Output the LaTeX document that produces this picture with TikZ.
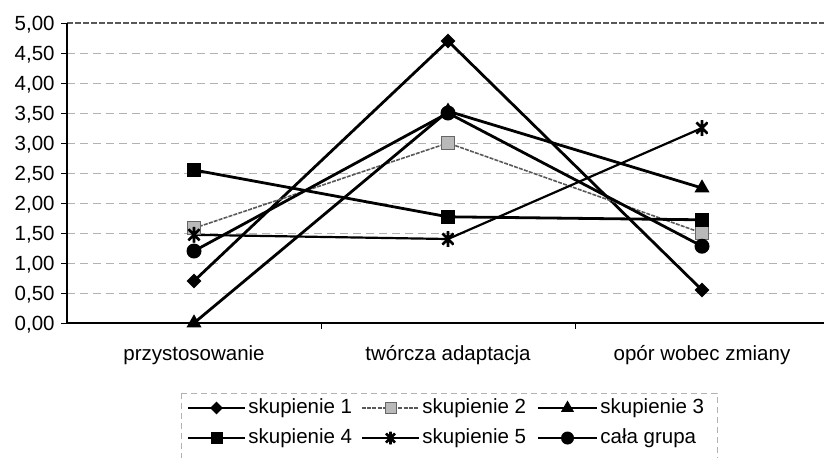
\documentclass[tikz,border=0pt]{standalone}
\usepackage{fontspec}
\setmainfont{Liberation Sans}
\usepackage{tikz}
\usetikzlibrary{shapes.geometric}

\begin{document}
\begin{tikzpicture}[x=0.5pt, y=-0.5pt,
        font=\fontsize{10.25}{12}\selectfont,
        gridline/.style={gray!60, line width=0.4pt, dash pattern=on 4pt off 2.5pt},
        series/.style={black, line width=1.4pt},
        greyseries/.style={gray!70!black, line width=0.8pt, dash pattern=on 2pt off 0.6pt},
        starseries/.style={black, line width=1.1pt},
        diamark/.style={diamond, fill=black, inner sep=0pt, minimum size=7.5pt},
        sqmark/.style={rectangle, fill=black, inner sep=0pt, minimum size=7pt},
        greymark/.style={rectangle, fill=gray!55, draw=gray!80!black, line width=0.4pt, inner sep=0pt, minimum size=6.5pt},
        trimark/.style={regular polygon, regular polygon sides=3, fill=black, inner sep=0pt, minimum size=8.7pt},
        dotmark/.style={circle, fill=black, inner sep=0pt, minimum size=7.5pt},
        starmark/.style={circle, inner sep=0pt, minimum size=8pt, path picture={
            \draw[black, line width=1.3pt]
              (path picture bounding box.north) -- (path picture bounding box.south)
              (path picture bounding box.north west) -- (path picture bounding box.south east)
              (path picture bounding box.north east) -- (path picture bounding box.south west);}},
        entry/.style={anchor=base west, inner sep=0pt}]
        \useasboundingbox (0,0) rectangle (824,457);

        \begin{scope}[shift={(67,323)}, x=127pt, y=30pt]
        % Grid
        \foreach \v in {0.5,1,...,4.5}
            \draw[gridline] (0,\v) -- (2.98,\v);
        \draw[gray!70!black, line width=0.6pt, dash pattern=on 3pt off 1pt] (0,5) -- (2.98,5);

        % Axes
        \draw[black, line width=0.6pt] (0,5) -- (0,0) -- (2.98,0);
        \foreach \v in {0,0.5,...,5}
            \draw[black, line width=0.4pt] (0,\v) -- ++(-3pt,0);
        \foreach \c in {1,2}
            \draw[black, line width=0.4pt] (\c,0) -- ++(0,-3pt);

        % Value labels
        \foreach \t [count=\i from 0] in {{0,00},{0,50},{1,00},{1,50},{2,00},{2,50},{3,00},{3,50},{4,00},{4,50},{5,00}}
            \node[anchor=base east, inner sep=0pt] (y\i) at ([xshift=-6pt, yshift=-3.75pt]0,{\i/2}) {\t};

        % Categories
        \node[anchor=base, inner sep=0pt] (cat1) at (0.5,-0.617) {przystosowanie};
        \node[anchor=base, inner sep=0pt] (cat2) at (1.5,-0.617) {twórcza adaptacja};
        \node[anchor=base, inner sep=0pt] (cat3) at (2.5,-0.617) {opór wobec zmiany};

        % Data points
        \coordinate (s1a) at (0.5,0.70);  \coordinate (s1b) at (1.5,4.70);  \coordinate (s1c) at (2.5,0.55);
        \coordinate (s2a) at (0.5,1.58);  \coordinate (s2b) at (1.5,3.00);  \coordinate (s2c) at (2.5,1.50);
        \coordinate (s3a) at (0.5,0.00);  \coordinate (s3b) at (1.5,3.53);  \coordinate (s3c) at (2.5,2.25);
        \coordinate (s4a) at (0.5,2.55);  \coordinate (s4b) at (1.5,1.77);  \coordinate (s4c) at (2.5,1.72);
        \coordinate (s5a) at (0.5,1.47);  \coordinate (s5b) at (1.5,1.40);  \coordinate (s5c) at (2.5,3.25);
        \coordinate (s6a) at (0.5,1.20);  \coordinate (s6b) at (1.5,3.50);  \coordinate (s6c) at (2.5,1.28);

        % Lines
        \draw[series] (s1a) -- (s1b) -- (s1c);
        \draw[greyseries] (s2a) -- (s2b) -- (s2c);
        \draw[series] (s3a) -- (s3b) -- (s3c);
        \draw[series] (s4a) -- (s4b) -- (s4c);
        \draw[starseries] (s5a) -- (s5b) -- (s5c);
        \draw[series] (s6a) -- (s6b) -- (s6c);

        % Markers
        \foreach \p in {a,b,c} {
            \node[diamark] (m1\p) at (s1\p) {};
            \node[greymark] (m2\p) at (s2\p) {};
            \node[trimark] (m3\p) at (s3\p) {};
            \node[sqmark] (m4\p) at (s4\p) {};
            \node[starmark] (m5\p) at (s5\p) {};
            \node[dotmark] (m6\p) at (s6\p) {};
        }
        \end{scope}

        % Legend
        \draw[gray!60, line width=0.4pt, dash pattern=on 3pt off 2pt] (181,393) rectangle (717,460);

        \coordinate (la1) at (188,408);  \coordinate (lb1) at (245,408);
        \draw[series] (la1) -- (lb1);
        \node[diamark, minimum size=6.5pt] (lm1) at (216.5,408) {};
        \node[entry] (lt1) at (248,413) {skupienie 1};

        \coordinate (la2) at (362,408);  \coordinate (lb2) at (419,408);
        \draw[greyseries] (la2) -- (lb2);
        \node[greymark, minimum size=5.5pt] (lm2) at (390.5,408) {};
        \node[entry] (lt2) at (422,413) {skupienie 2};

        \coordinate (la3) at (538,408);  \coordinate (lb3) at (597,408);
        \draw[series] (la3) -- (lb3);
        \node[trimark, minimum size=7.5pt] (lm3) at (567.5,408) {};
        \node[entry] (lt3) at (600,413) {skupienie 3};

        \coordinate (la4) at (188,438);  \coordinate (lb4) at (245,438);
        \draw[series] (la4) -- (lb4);
        \node[sqmark, minimum size=6pt] (lm4) at (216.5,438) {};
        \node[entry] (lt4) at (248,443) {skupienie 4};

        \coordinate (la5) at (362,438);  \coordinate (lb5) at (419,438);
        \draw[starseries] (la5) -- (lb5);
        \node[starmark, minimum size=6.5pt] (lm5) at (390.5,438) {};
        \node[entry] (lt5) at (422,443) {skupienie 5};

        \coordinate (la6) at (538,438);  \coordinate (lb6) at (597,438);
        \draw[series] (la6) -- (lb6);
        \node[dotmark, minimum size=6.5pt] (lm6) at (567.5,438) {};
        \node[entry] (lt6) at (600,443) {cała grupa};
    \end{tikzpicture}
\end{document}
